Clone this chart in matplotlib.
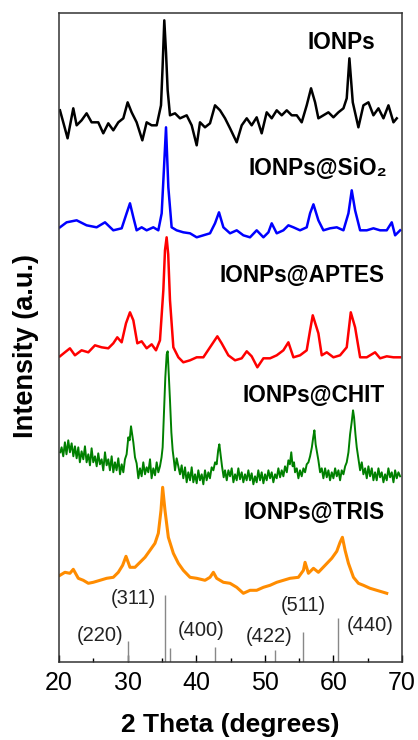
from matplotlib import pyplot as plt

plt.rcParams['font.family'] = ['Liberation Sans', 'DejaVu Sans']

# IONPs (preto)
x_ionp = [20.15, 20.63, 21.26, 22.09, 22.58, 23.3, 24.03, 24.76, 25.73, 26.46, 27.19, 27.92, 28.65, 29.38,
          30.01, 30.59, 31.32, 32.15, 32.78, 33.51, 34.24, 34.87, 35.1, 35.35, 35.6, 35.84, 36.18, 36.91,
          37.64, 38.61, 39.34, 40.07, 40.55, 41.28, 42.01, 42.74, 43.47, 44.2, 44.93, 45.9, 46.63, 47.36,
          48.08, 48.81, 49.54, 50.27, 51.0, 51.73, 52.46, 53.19, 53.92, 54.65, 55.37, 56.1, 56.73, 57.32,
          57.8, 58.53, 59.26, 59.99, 60.72, 61.45, 61.93, 62.32, 62.81, 63.63, 64.36, 65.09, 65.82, 66.55,
          67.28, 68.01, 68.74, 69.22]
y_ionp = [42, 30, 14, 44, 27, 32, 39, 30, 30, 19, 29, 22, 30, 34,
          50, 40, 30, 12, 30, 27, 27, 47, 85, 132, 100, 62, 37, 39,
          34, 37, 27, 7, 30, 25, 29, 47, 42, 34, 24, 10, 27, 34,
          27, 35, 19, 40, 34, 42, 37, 42, 37, 37, 30, 47, 64, 50,
          34, 37, 40, 35, 40, 44, 54, 94, 50, 25, 47, 50, 37, 44,
          34, 47, 30, 34]

# IONPs@SiO2 (azul)
x_sio2 = [20.15, 21.12, 22.58, 24.03, 25.49, 26.71, 27.92, 29.14, 29.86, 30.35, 30.84, 31.32, 32.05, 32.78,
          33.75, 34.48, 34.97, 35.31, 35.6, 35.94, 36.42, 37.15, 38.12, 39.1, 40.07, 41.04, 42.01, 42.74,
          43.32, 43.96, 44.93, 45.9, 46.87, 47.84, 48.81, 49.79, 50.52, 51.0, 51.73, 52.7, 53.43, 54.16,
          55.13, 56.1, 56.59, 57.08, 57.8, 58.53, 59.5, 60.48, 61.45, 62.18, 62.66, 63.15, 63.88, 64.85,
          65.82, 66.79, 67.76, 68.49, 68.98, 69.71]
y_sio2 = [25, 30, 32, 27, 25, 30, 22, 24, 39, 49, 35, 22, 25, 22,
          25, 22, 39, 85, 125, 65, 25, 22, 20, 19, 15, 17, 19, 29,
          40, 25, 19, 22, 17, 15, 22, 15, 20, 29, 19, 22, 27, 25,
          22, 25, 39, 48, 32, 22, 24, 25, 22, 39, 62, 42, 22, 22,
          24, 22, 22, 30, 17, 22]

# IONPs@APTES (vermelho)
x_aptes = [20.15, 20.87, 21.6, 22.33, 23.3, 24.28, 25.25, 26.22, 27.19, 27.92, 28.5, 29.14, 29.77, 30.35,
           30.84, 31.42, 32.05, 32.78, 33.51, 34.14, 34.72, 35.21, 35.45, 35.69, 35.92, 36.18, 36.67, 37.4,
           38.12, 39.1, 40.07, 41.04, 42.01, 43.08, 43.71, 44.68, 45.66, 46.63, 47.36, 48.08, 48.91, 49.79,
           50.76, 51.73, 52.7, 53.43, 54.16, 55.13, 56.1, 56.59, 56.98, 57.8, 58.29, 59.02, 59.99, 60.96,
           61.93, 62.52, 63.15, 63.88, 64.85, 66.06, 66.79, 67.76, 68.74, 69.71]
y_aptes = [16, 20, 24, 17, 22, 20, 27, 25, 24, 29, 35, 30, 49, 60,
           52, 29, 31, 24, 28, 22, 32, 82, 122, 135, 118, 72, 25, 15,
           10, 12, 15, 15, 25, 36, 29, 17, 12, 14, 21, 16, 5, 14,
           14, 17, 22, 30, 15, 17, 22, 42, 57, 39, 17, 20, 15, 17,
           25, 60, 45, 15, 15, 20, 14, 16, 15, 15]

# IONPs@CHIT (verde)
x_chit = [20.2, 20.39, 20.63, 20.87, 21.1, 21.36, 21.6, 21.85, 22.1, 22.33, 22.58, 22.82, 23.05, 23.3,
          23.55, 23.79, 24.03, 24.28, 24.52, 24.76, 25.0, 25.25, 25.5, 25.73, 25.97, 26.22, 26.46, 26.71,
          26.95, 27.19, 27.43, 27.68, 27.92, 28.16, 28.4, 28.65, 28.9, 29.14, 29.38, 29.62, 29.86, 30.11,
          30.3, 30.5, 30.67, 30.84, 31.08, 31.32, 31.57, 31.81, 32.05, 32.29, 32.54, 32.78, 33.02, 33.27,
          33.5, 33.75, 34.0, 34.24, 34.48, 34.72, 34.95, 35.11, 35.3, 35.5, 35.7, 35.84, 36.0, 36.18,
          36.38, 36.57, 36.75, 36.91, 37.15, 37.4, 37.64, 37.88, 38.12, 38.37, 38.61, 38.85, 39.1, 39.34,
          39.58, 39.83, 40.07, 40.31, 40.55, 40.8, 41.04, 41.28, 41.52, 41.77, 42.0, 42.25, 42.5, 42.75,
          42.98, 43.2, 43.37, 43.55, 43.76, 44.0, 44.2, 44.45, 44.69, 44.93, 45.17, 45.42, 45.66, 45.9,
          46.14, 46.38, 46.63, 46.87, 47.11, 47.35, 47.6, 47.84, 48.08, 48.33, 48.57, 48.81, 49.05, 49.3,
          49.54, 49.79, 50.03, 50.27, 50.52, 50.76, 51.0, 51.24, 51.49, 51.73, 51.97, 52.22, 52.46, 52.7,
          52.94, 53.2, 53.43, 53.65, 53.85, 54.05, 54.25, 54.4, 54.65, 54.89, 55.13, 55.37, 55.62, 55.86,
          56.1, 56.35, 56.59, 56.85, 57.05, 57.22, 57.4, 57.6, 57.8, 58.05, 58.29, 58.53, 58.78, 59.02,
          59.26, 59.5, 59.75, 59.99, 60.24, 60.48, 60.72, 60.96, 61.2, 61.45, 61.7, 61.93, 62.18, 62.42,
          62.65, 62.85, 63.0, 63.2, 63.39, 63.6, 63.88, 64.12, 64.36, 64.61, 64.85, 65.09, 65.33, 65.58,
          65.82, 66.06, 66.3, 66.55, 66.79, 67.03, 67.28, 67.52, 67.76, 68.0, 68.25, 68.49, 68.74, 68.98,
          69.22, 69.46, 69.71]
y_chit = [40, 45, 36, 50, 38, 52, 40, 49, 36, 46, 34, 45, 30, 41,
          33, 46, 30, 38, 27, 44, 30, 36, 26, 39, 28, 33, 22, 40,
          27, 33, 22, 36, 20, 30, 22, 34, 18, 28, 20, 33, 38, 55,
          52, 66, 58, 50, 35, 29, 14, 24, 16, 30, 18, 25, 20, 33,
          14, 24, 17, 30, 20, 26, 35, 45, 80, 115, 138, 141, 118, 92,
          60, 42, 32, 22, 34, 26, 18, 27, 14, 25, 10, 20, 12, 25,
          10, 18, 9, 22, 12, 18, 8, 22, 12, 20, 14, 25, 22, 30,
          28, 42, 48, 38, 26, 15, 22, 12, 22, 16, 24, 10, 18, 12,
          24, 13, 20, 10, 18, 12, 22, 12, 19, 8, 16, 10, 22, 12,
          20, 9, 18, 12, 22, 14, 20, 10, 18, 14, 24, 15, 22, 16,
          26, 20, 32, 28, 40, 26, 30, 20, 24, 14, 22, 16, 24, 20,
          28, 30, 36, 45, 55, 62, 48, 40, 32, 20, 24, 14, 24, 15,
          22, 12, 20, 14, 24, 16, 22, 12, 22, 18, 26, 30, 40, 58,
          70, 82, 75, 58, 45, 35, 22, 30, 18, 24, 14, 26, 16, 24,
          12, 20, 12, 24, 15, 20, 10, 18, 12, 24, 15, 20, 10, 22,
          14, 20, 16]

# IONPs@TRIS (laranja)
x_tris = [20.15, 20.87, 21.6, 22.09, 22.82, 23.55, 24.28, 25.0, 25.98, 26.95, 27.92, 28.65, 29.28, 29.77,
          30.35, 31.08, 31.81, 32.54, 33.27, 33.99, 34.48, 34.87, 35.11, 35.45, 35.94, 36.67, 37.4, 38.12,
          39.1, 40.07, 41.28, 42.01, 42.5, 42.98, 43.96, 44.93, 45.9, 46.87, 47.84, 48.81, 49.79, 50.76,
          51.73, 52.7, 53.67, 54.89, 55.62, 55.86, 56.35, 57.08, 57.8, 58.78, 59.75, 60.48, 60.96, 61.3,
          61.69, 62.18, 62.91, 63.63, 64.36, 65.33, 66.3, 67.28, 67.76]
y_tris = [27, 30, 29, 33, 24, 22, 19, 20, 22, 24, 25, 30, 37, 46,
          35, 35, 40, 45, 52, 59, 69, 92, 115, 92, 65, 49, 39, 32,
          25, 24, 22, 25, 30, 24, 20, 19, 15, 9, 12, 12, 15, 17,
          20, 22, 24, 25, 32, 40, 29, 34, 30, 37, 44, 51, 60, 65,
          52, 39, 25, 19, 17, 14, 12, 10, 9]

series = [(x_ionp, y_ionp, 'black', 510, 'IONPs', 66.1, 620, 1.8),
          (x_sio2, y_sio2, 'blue', 410, 'IONPs@SiO₂', 67.8, 494, 1.8),
          (x_aptes, y_aptes, 'red', 290, 'IONPs@APTES', 67.5, 387, 1.8),
          (x_chit, y_chit, 'green', 170, 'IONPs@CHIT', 67.5, 267, 1.4),
          (x_tris, y_tris, '#ff8c00', 60, 'IONPs@TRIS', 67.5, 150, 2.2)]

# padrão de referência (magnetita)
ref_pos = [30.1, 35.45, 36.2, 42.7, 51.5, 55.6, 60.7]
ref_h = [21, 67, 14, 15, 12, 30, 44]
hkl = ['(220)', '(311)', '(400)', '(422)', '(511)', '(440)']
hkl_x = [26.0, 30.8, 40.7, 50.6, 55.6, 65.3]
hkl_y = [27, 64, 32, 26, 57, 37]

fig = plt.figure(figsize=(4.18, 7.4), dpi=100)
ax = fig.add_axes([0.141, 0.105, 0.821, 0.877])

for x, y, c, off, nome, tx, ty, lw in series:
    ax.plot(x, [v + off for v in y], color=c, lw=lw)
    ax.text(tx, ty, nome, ha='right', va='center', fontsize=16.3, fontweight='bold')

ax.vlines(ref_pos, 0, ref_h, color='#888888', lw=1)
for t, px, py in zip(hkl, hkl_x, hkl_y):
    ax.text(px, py, t, ha='center', va='center', fontsize=14.5, color='#222222')

ax.set_xlim(20, 70)
ax.set_ylim(0, 649)
ax.set_xticks([20, 30, 40, 50, 60, 70])
ax.set_xticks([25, 35, 45, 55, 65], minor=True)
ax.set_yticks([])
ax.tick_params(axis='x', direction='in', labelsize=18, length=5, width=1, pad=6)
ax.tick_params(axis='x', which='minor', direction='in', length=3, width=1)
for s in ax.spines.values():
    s.set_linewidth(1.1)
    s.set_color('#333333')
ax.set_xlabel('2 Theta (degrees)', fontsize=19, fontweight='bold', labelpad=13)
ax.set_ylabel('Intensity (a.u.)', fontsize=19.5, fontweight='bold')
ax.yaxis.set_label_coords(-0.057, 0.487)

plt.savefig('out.png', dpi=100)
